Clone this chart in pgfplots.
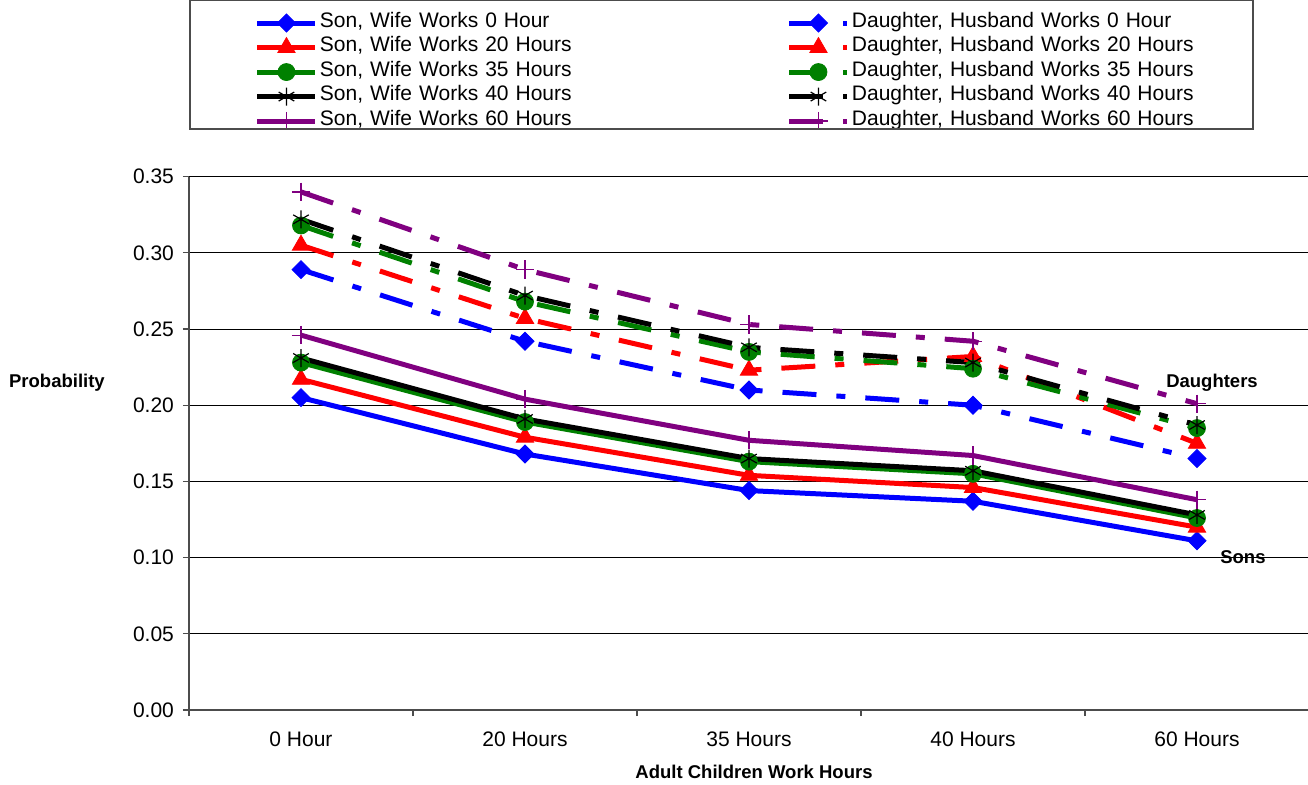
\documentclass[border=0pt]{standalone}
\usepackage{pgfplots}
\pgfplotsset{compat=1.18}
\usepackage{fontspec}
\setmainfont{Liberation Sans}
\definecolor{xblue}{RGB}{0,0,255}
\definecolor{xred}{RGB}{255,0,0}
\definecolor{xgreen}{RGB}{0,128,0}
\definecolor{xpurple}{RGB}{128,0,128}
\pgfplotsset{
  son/.style={solid, line width=2.5pt},
  dau/.style={line width=2.5pt, dash pattern=on 17pt off 10pt on 4.5pt off 10pt},
  mdia/.style={mark=square*, mark size=3.2pt, mark options={solid, rotate=45, line width=0.4pt, fill=#1, draw=#1}},
  mtri/.style={mark=triangle*, mark size=5pt, mark options={solid, line width=0.4pt, fill=#1, draw=#1}},
  mcir/.style={mark=*, mark size=4.25pt, mark options={solid, line width=0.4pt, fill=#1, draw=#1}},
  mast/.style={mark=asterisk, mark size=4.5pt, mark options={solid, line width=0.6pt, draw=black}},
  mplus/.style={mark=+, mark size=4.6pt, mark options={solid, line width=0.6pt, draw=#1}},
}
\begin{document}
\begin{tikzpicture}
\begin{axis}[
  at={(0pt,0pt)}, anchor=south west,
  scale only axis, width=560pt, height=266.67pt,
  xmin=-0.5, xmax=4.5, ymin=0, ymax=0.35,
  clip=false,
  axis x line*=bottom, axis y line*=left,
  axis line style={-, draw=black!70, line width=0.8pt},
  xtick={0,1,2,3,4},
  xticklabels={0 Hour,20 Hours,35 Hours,40 Hours,60 Hours},
  minor xtick={-0.5,0.5,1.5,2.5,3.5,4.5},
  every major x tick/.append style={draw=none},
  ytick={0,0.05,0.10,0.15,0.20,0.25,0.30,0.35},
  tick align=outside, major tick length=3pt, minor tick length=3pt,
  tick style={black!70, line width=0.6pt},
  ymajorgrids, grid style={black, line width=0.5pt},
  /pgf/number format/assume math mode=true,
  yticklabel style={/pgf/number format/fixed, /pgf/number format/fixed zerofill, /pgf/number format/precision=2, xshift=-1pt},
  xticklabel style={yshift=-4.5pt},
  tick label style={font=\fontsize{10.5}{12}\selectfont},
  xlabel={Adult Children Work Hours},
  xlabel style={font=\bfseries\fontsize{9.25}{11}\selectfont, at={(axis description cs:0.5045,-0.1163)}, anchor=center},
  ylabel={Probability},
  ylabel style={font=\bfseries\fontsize{9.25}{11}\selectfont, rotate=-90, at={(axis description cs:-0.1179,0.613)}, anchor=center},
  legend columns=2,
  legend cell align=left,
  legend style={at={(axis description cs:0.0589,1.311)}, anchor=north west, draw=none, fill=none,
    inner sep=0pt, outer sep=0pt, row sep=0pt, column sep=0pt,
    font=\fontsize{10.5}{12}\selectfont,
    nodes={inner xsep=1pt, inner ysep=0pt, text height=8.25pt, text depth=4pt, text width=232.5pt, align=left}},
  legend image code/.code={\draw[mark repeat=2,mark phase=2,#1] plot coordinates {(0pt,0pt) (14.5pt,0pt) (29pt,0pt)};},
]
% Son, Wife 0
\addplot[son, draw=xblue, mdia=xblue] coordinates {(0,0.205) (1,0.168) (2,0.144) (3,0.137) (4,0.111)};
\addlegendentry{Son, Wife Works 0 Hour}
\addplot[dau, draw=xblue, mdia=xblue] coordinates {(0,0.289) (1,0.242) (2,0.210) (3,0.200) (4,0.165)};
\addlegendentry{Daughter, Husband Works 0 Hour}
\addplot[son, draw=xred, mtri=xred] coordinates {(0,0.217) (1,0.179) (2,0.154) (3,0.146) (4,0.120)};
\addlegendentry{Son, Wife Works 20 Hours}
\addplot[dau, draw=xred, mtri=xred] coordinates {(0,0.305) (1,0.257) (2,0.223) (3,0.232) (4,0.175)};
\addlegendentry{Daughter, Husband Works 20 Hours}
\addplot[son, draw=xgreen, mcir=xgreen] coordinates {(0,0.228) (1,0.189) (2,0.163) (3,0.155) (4,0.126)};
\addlegendentry{Son, Wife Works 35 Hours}
\addplot[dau, draw=xgreen, mcir=xgreen] coordinates {(0,0.318) (1,0.268) (2,0.235) (3,0.224) (4,0.185)};
\addlegendentry{Daughter, Husband Works 35 Hours}
\addplot[son, draw=black, mast] coordinates {(0,0.231) (1,0.191) (2,0.165) (3,0.157) (4,0.128)};
\addlegendentry{Son, Wife Works 40 Hours}
\addplot[dau, draw=black, mast] coordinates {(0,0.322) (1,0.272) (2,0.238) (3,0.228) (4,0.187)};
\addlegendentry{Daughter, Husband Works 40 Hours}
\addplot[son, draw=xpurple, mplus=xpurple] coordinates {(0,0.246) (1,0.204) (2,0.177) (3,0.167) (4,0.138)};
\addlegendentry{Son, Wife Works 60 Hours}
\addplot[dau, draw=xpurple, mplus=xpurple] coordinates {(0,0.340) (1,0.289) (2,0.253) (3,0.242) (4,0.201)};
\addlegendentry{Daughter, Husband Works 60 Hours}
\node[font=\bfseries\fontsize{9.25}{11}\selectfont] at (axis cs:4.067,0.2146) {Daughters};
\node[font=\bfseries\fontsize{9.25}{11}\selectfont] at (axis cs:4.205,0.1004) {Sons};
\end{axis}
\draw[black!70, line width=0.6pt] (0.5pt,290.5pt) rectangle (532pt,354.6pt);
\pgfresetboundingbox
\path (-94.5pt,-37pt) rectangle (559.5pt,355pt);
\end{tikzpicture}
\end{document}
